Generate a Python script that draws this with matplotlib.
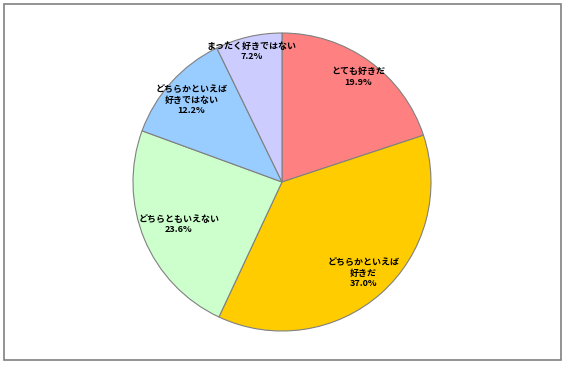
import numpy as np
import matplotlib
matplotlib.use("Agg")
import matplotlib.pyplot as plt
from matplotlib.patches import Rectangle

plt.rcParams['font.family'] = ['Noto Sans CJK JP', 'DejaVu Sans']

categories = ["とても好きだ", "どちらかといえば\n好きだ", "どちらともいえない",
              "どちらかといえば\n好きではない", "まったく好きではない"]
values = [19.9, 37.0, 23.6, 12.2, 7.2]
colors = ["#FF8080", "#FFCC00", "#CCFFCC", "#99CCFF", "#CCCCFF"]
label_radius = [0.87, 0.82, 0.75, 0.82, 0.90]

fig = plt.figure(figsize=(5.68, 3.66), dpi=100)
fig.patch.set_facecolor("white")

W, H = 568, 366
cx, cy, r = 282, 182, 149
ax = fig.add_axes([(cx - r) / W, (H - cy - r) / H, 2 * r / W, 2 * r / H])

wedges, _ = ax.pie(values, colors=colors, startangle=90, counterclock=False,
                   radius=1.0,
                   wedgeprops=dict(edgecolor="#808080", linewidth=0.8))
ax.set_xlim(-1, 1)
ax.set_ylim(-1, 1)
ax.set_aspect("equal")
ax.axis("off")

total = sum(values)
for w, cat, v, lr in zip(wedges, categories, values, label_radius):
    ang = np.deg2rad((w.theta1 + w.theta2) / 2)
    x, y = lr * np.cos(ang), lr * np.sin(ang)
    ax.text(x, y, f"{cat}\n{v:.1f}%", ha="center", va="center",
            fontsize=6.5, fontweight="bold", linespacing=1.2, color="black")

fig.add_artist(Rectangle((4 / W, (H - 360) / H), (561 - 4) / W, (360 - 4) / H,
                         transform=fig.transFigure, fill=False,
                         edgecolor="#808080", linewidth=1.2))

fig.savefig("out.png", dpi=100)
